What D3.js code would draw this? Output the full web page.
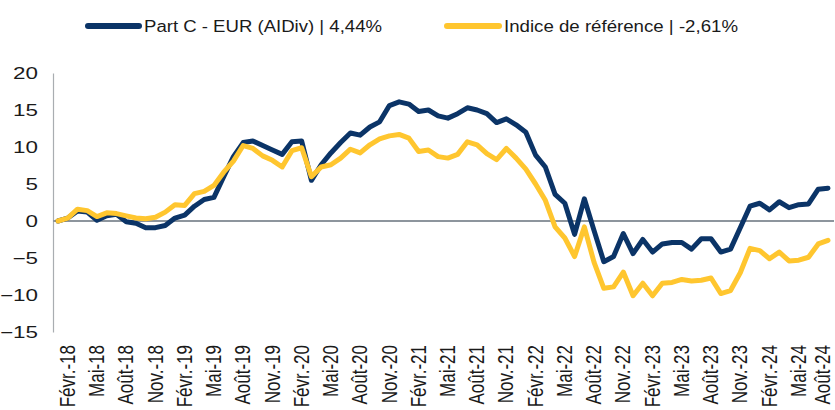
<!DOCTYPE html>
<html>
<head>
<meta charset="utf-8">
<script src="https://cdn.jsdelivr.net/npm/d3@7"></script>
<style>
  html, body { margin: 0; padding: 0; background: #fff; }
  svg { display: block; font-family: "Liberation Sans", Arial, sans-serif; }
</style>
</head>
<body>
<svg id="chart" width="835" height="410"></svg>
<script>
// monthly points, janv. 2018 -> août 2024
var months = d3.timeMonth.range(new Date(2018, 0, 1), new Date(2024, 8, 1));

var partC = [
    0, 0.4, 1.35, 1.2, 0.1, 0.7, 0.9, -0.1, -0.3, -0.9,
    -0.9, -0.6, 0.4, 0.8, 2.0, 2.9, 3.2, 6.0, 8.7, 10.6,
    10.8, 10.2, 9.6, 9.0, 10.7, 10.8, 5.5, 7.6, 9.2, 10.6,
    11.9, 11.6, 12.7, 13.4, 15.6, 16.1, 15.8, 14.8, 15.0, 14.2,
    13.9, 14.5, 15.3, 15.0, 14.5, 13.3, 13.8, 13.0, 12.0, 8.9,
    7.3, 3.6, 2.4, -1.8, 3.0, -1.3, -5.5, -4.8, -1.7, -4.4,
    -2.5, -4.2, -3.1, -2.9, -2.9, -3.8, -2.4, -2.4, -4.2, -3.8,
    -0.9, 2.0, 2.4, 1.5, 2.6, 1.8, 2.2, 2.3, 4.3, 4.44
];

var indice = [
    0, 0.4, 1.6, 1.4, 0.6, 1.1, 1.0, 0.7, 0.4, 0.3,
    0.5, 1.2, 2.2, 2.1, 3.7, 4.0, 4.8, 6.6, 8.1, 10.2,
    9.8, 8.8, 8.2, 7.3, 9.5, 9.9, 6.0, 7.3, 7.6, 8.5,
    9.7, 9.2, 10.3, 11.1, 11.5, 11.7, 11.2, 9.4, 9.6, 8.7,
    8.5, 9.0, 10.7, 10.3, 9.1, 8.3, 9.8, 8.5, 7.0, 5.0,
    2.8, -0.8, -2.3, -4.8, -0.8, -5.6, -9.1, -8.9, -6.9, -10.1,
    -8.4, -10.1, -8.4, -8.3, -7.9, -8.1, -8.0, -7.7, -9.8, -9.4,
    -7.0, -3.7, -4.0, -5.1, -4.2, -5.4, -5.3, -4.9, -3.1, -2.61
];

var tickLabels = [
    "Févr.-18", "Mai-18", "Août-18", "Nov.-18",
    "Févr.-19", "Mai-19", "Août-19", "Nov.-19",
    "Févr.-20", "Mai-20", "Août-20", "Nov.-20",
    "Févr.-21", "Mai-21", "Août-21", "Nov.-21",
    "Févr.-22", "Mai-22", "Août-22", "Nov.-22",
    "Févr.-23", "Mai-23", "Août-23", "Nov.-23",
    "Févr.-24", "Mai-24", "Août-24"
];

var yTicks = [20, 15, 10, 5, 0, -5, -10, -15];

var seriesNames = ["Part C - EUR (AIDiv) | 4,44%", "Indice de référence | -2,61%"];

var navy = "#0b3467",
    yellow = "#ffc62f",
    sx = 1.4; // text in the picture is stretched sideways

var svg = d3.select("#chart");

var x = d3.scalePoint()
    .domain(d3.range(months.length))
    .range([58, 828]);

var y = d3.scaleLinear()
    .domain([-15, 20])
    .range([332, 73]);

// y axis
var yAxis = svg.append("g")
    .attr("transform", "translate(53,0)")
    .call(d3.axisLeft(y).tickValues(yTicks).tickSize(0).tickSizeOuter(0).tickPadding(0));
yAxis.select(".domain").attr("stroke", "#a9adb1").attr("stroke-width", 1.2);
yAxis.selectAll("text")
    .attr("x", 0)
    .attr("dy", "0.36em")
    .attr("transform", "translate(-15,0) scale(" + sx + ",1)")
    .attr("font-size", 16)
    .attr("font-family", "Liberation Sans, Arial, sans-serif")
    .attr("fill", "#1a1a1a");

// zero line
svg.append("line")
    .attr("x1", 53).attr("x2", 834)
    .attr("y1", y(0)).attr("y2", y(0))
    .attr("stroke", "#8d959d")
    .attr("stroke-width", 2);

// x axis labels (rotated)
var tickIdx = d3.range(1, months.length, 3);
var xAxis = svg.append("g")
    .attr("transform", "translate(0,345)")
    .call(d3.axisBottom(x)
        .tickValues(tickIdx)
        .tickFormat(function (d, i) { return tickLabels[i]; })
        .tickSize(0));
xAxis.select(".domain").remove();
xAxis.selectAll("text")
    .attr("x", 0).attr("y", 0)
    // last label sits at the right edge, pull it in a little
    .attr("dy", function (d, i) { return i === tickIdx.length - 1 ? "0.08em" : "0.3em"; })
    .attr("text-anchor", "end")
    .attr("transform", "scale(1.3,1) rotate(-90)")
    .attr("font-size", 17)
    .attr("font-family", "Liberation Sans, Arial, sans-serif")
    .attr("fill", "#1a1a1a");

// lines
var line = d3.line()
    .x(function (d, i) { return x(i); })
    .y(function (d) { return y(d); });

svg.append("path")
    .datum(partC)
    .attr("d", line)
    .attr("fill", "none")
    .attr("stroke", navy)
    .attr("stroke-width", 5)
    .attr("stroke-linejoin", "round")
    .attr("stroke-linecap", "round");

svg.append("path")
    .datum(indice)
    .attr("d", line)
    .attr("fill", "none")
    .attr("stroke", yellow)
    .attr("stroke-width", 5)
    .attr("stroke-linejoin", "round")
    .attr("stroke-linecap", "round");

// legend
var legendItems = [
    { name: seriesNames[0], color: navy, x0: 88, x1: 139, tx: 144, tw: 238 },
    { name: seriesNames[1], color: yellow, x0: 447, x1: 499, tx: 504, tw: 234 }
];
var legend = svg.append("g");
legendItems.forEach(function (d) {
    legend.append("line")
        .attr("x1", d.x0).attr("x2", d.x1)
        .attr("y1", 26).attr("y2", 26)
        .attr("stroke", d.color)
        .attr("stroke-width", 6)
        .attr("stroke-linecap", "round");
    legend.append("text")
        .attr("x", d.tx).attr("y", 32)
        .attr("font-size", 16)
        .attr("textLength", d.tw)
        .attr("lengthAdjust", "spacingAndGlyphs")
        .attr("fill", "#1a1a1a")
        .text(d.name);
});
</script>
</body>
</html>
